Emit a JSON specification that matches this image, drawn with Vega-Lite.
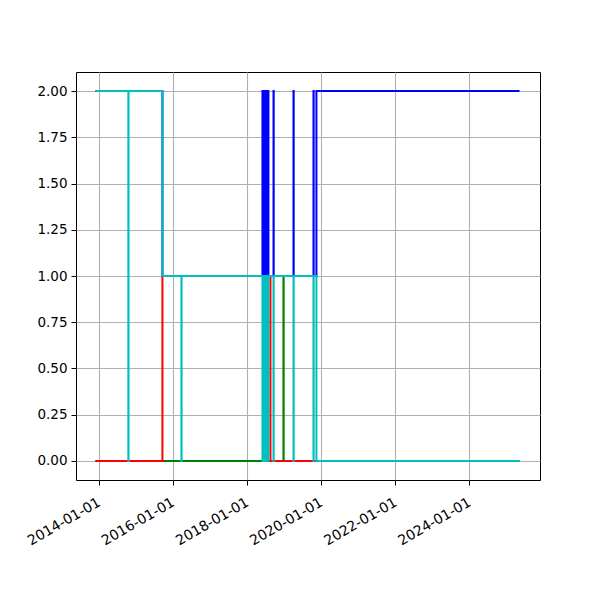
{
  "$schema": "https://vega.github.io/schema/vega-lite/v6.json",
  "autosize": {"type": "none"},
  "width": 464,
  "height": 408,
  "padding": {"left": 76, "top": 72, "right": 60, "bottom": 120},
  "background": "white",
  "config": {
    "view": {"stroke": "black", "strokeWidth": 1},
    "axis": {
      "labelFont": "DejaVu Sans",
      "labelFontSize": 13.5,
      "labelColor": "black",
      "tickColor": "black",
      "tickSize": 5,
      "labelPadding": 4,
      "domain": false,
      "gridColor": "#b0b0b0",
      "gridWidth": 1.1,
      "title": null
    }
  },
  "data": {
    "values": [
      {"s": "blue", "t": "2013-12-02", "v": 2},
      {"s": "blue", "t": "2015-09-23", "v": 1},
      {"s": "blue", "t": "2018-06-05", "v": 2},
      {"s": "blue", "t": "2018-06-07", "v": 1},
      {"s": "blue", "t": "2018-06-12", "v": 2},
      {"s": "blue", "t": "2018-06-14", "v": 1},
      {"s": "blue", "t": "2018-06-19", "v": 2},
      {"s": "blue", "t": "2018-06-21", "v": 1},
      {"s": "blue", "t": "2018-06-26", "v": 2},
      {"s": "blue", "t": "2018-06-28", "v": 1},
      {"s": "blue", "t": "2018-07-03", "v": 2},
      {"s": "blue", "t": "2018-07-05", "v": 1},
      {"s": "blue", "t": "2018-07-10", "v": 2},
      {"s": "blue", "t": "2018-07-12", "v": 1},
      {"s": "blue", "t": "2018-07-17", "v": 2},
      {"s": "blue", "t": "2018-07-19", "v": 1},
      {"s": "blue", "t": "2018-07-24", "v": 2},
      {"s": "blue", "t": "2018-07-26", "v": 1},
      {"s": "blue", "t": "2018-07-31", "v": 2},
      {"s": "blue", "t": "2018-08-03", "v": 1},
      {"s": "blue", "t": "2018-09-22", "v": 2},
      {"s": "blue", "t": "2018-09-24", "v": 1},
      {"s": "blue", "t": "2019-04-07", "v": 2},
      {"s": "blue", "t": "2019-04-09", "v": 1},
      {"s": "blue", "t": "2019-10-21", "v": 2},
      {"s": "blue", "t": "2019-10-23", "v": 1},
      {"s": "blue", "t": "2019-11-19", "v": 2},
      {"s": "blue", "t": "2025-05-13", "v": 2},
      {"s": "green", "t": "2013-12-02", "v": 0},
      {"s": "green", "t": "2018-12-29", "v": 1},
      {"s": "green", "t": "2018-12-31", "v": 0},
      {"s": "green", "t": "2025-05-13", "v": 0},
      {"s": "red", "t": "2013-12-02", "v": 0},
      {"s": "red", "t": "2015-09-23", "v": 1},
      {"s": "red", "t": "2018-08-23", "v": 0},
      {"s": "red", "t": "2025-05-13", "v": 0},
      {"s": "cyan", "t": "2013-12-02", "v": 2},
      {"s": "cyan", "t": "2014-10-22", "v": 0},
      {"s": "cyan", "t": "2014-10-24", "v": 2},
      {"s": "cyan", "t": "2015-09-23", "v": 1},
      {"s": "cyan", "t": "2016-03-28", "v": 0},
      {"s": "cyan", "t": "2016-03-30", "v": 1},
      {"s": "cyan", "t": "2018-06-05", "v": 0},
      {"s": "cyan", "t": "2018-06-07", "v": 1},
      {"s": "cyan", "t": "2018-06-12", "v": 0},
      {"s": "cyan", "t": "2018-06-14", "v": 1},
      {"s": "cyan", "t": "2018-06-19", "v": 0},
      {"s": "cyan", "t": "2018-06-21", "v": 1},
      {"s": "cyan", "t": "2018-06-26", "v": 0},
      {"s": "cyan", "t": "2018-06-28", "v": 1},
      {"s": "cyan", "t": "2018-07-03", "v": 0},
      {"s": "cyan", "t": "2018-07-05", "v": 1},
      {"s": "cyan", "t": "2018-07-10", "v": 0},
      {"s": "cyan", "t": "2018-07-12", "v": 1},
      {"s": "cyan", "t": "2018-07-17", "v": 0},
      {"s": "cyan", "t": "2018-07-19", "v": 1},
      {"s": "cyan", "t": "2018-07-24", "v": 0},
      {"s": "cyan", "t": "2018-07-26", "v": 1},
      {"s": "cyan", "t": "2018-07-31", "v": 0},
      {"s": "cyan", "t": "2018-08-03", "v": 1},
      {"s": "cyan", "t": "2018-09-22", "v": 0},
      {"s": "cyan", "t": "2018-09-24", "v": 1},
      {"s": "cyan", "t": "2019-04-07", "v": 0},
      {"s": "cyan", "t": "2019-04-09", "v": 1},
      {"s": "cyan", "t": "2019-10-21", "v": 0},
      {"s": "cyan", "t": "2019-10-23", "v": 1},
      {"s": "cyan", "t": "2019-11-19", "v": 0},
      {"s": "cyan", "t": "2025-05-13", "v": 0}
    ]
  },
  "encoding": {
    "x": {
      "field": "t",
      "type": "temporal",
      "scale": {
        "type": "utc",
        "domain": [
          {"year": 2013, "month": "may", "date": 24, "utc": true},
          {"year": 2025, "month": "dec", "date": 1, "utc": true}
        ]
      },
      "axis": {
        "values": [
          {"year": 2014, "month": "jan", "date": 1, "utc": true},
          {"year": 2016, "month": "jan", "date": 1, "utc": true},
          {"year": 2018, "month": "jan", "date": 1, "utc": true},
          {"year": 2020, "month": "jan", "date": 1, "utc": true},
          {"year": 2022, "month": "jan", "date": 1, "utc": true},
          {"year": 2024, "month": "jan", "date": 1, "utc": true}
        ],
        "format": "%Y-%m-%d",
        "labelAngle": -30,
        "labelAlign": "right",
        "labelBaseline": "top",
        "labelOverlap": false,
        "labelFontSize": 14,
        "labelPadding": 10,
        "labelOffset": -3,
        "grid": true
      }
    },
    "y": {
      "field": "v",
      "type": "quantitative",
      "scale": {"domain": [-0.103, 2.103], "nice": false, "zero": false},
      "axis": {
        "values": [0, 0.25, 0.5, 0.75, 1, 1.25, 1.5, 1.75, 2],
        "format": ".2f",
        "grid": true
      }
    }
  },
  "layer": [
    {
      "transform": [{"filter": "datum.s === 'blue'"}],
      "mark": {"type": "line", "interpolate": "step-after", "color": "#0000ff", "strokeWidth": 2, "clip": true}
    },
    {
      "transform": [{"filter": "datum.s === 'green'"}],
      "mark": {"type": "line", "interpolate": "step-after", "color": "#008000", "strokeWidth": 2, "clip": true}
    },
    {
      "transform": [{"filter": "datum.s === 'red'"}],
      "mark": {"type": "line", "interpolate": "step-after", "color": "#ff0000", "strokeWidth": 2, "clip": true}
    },
    {
      "transform": [{"filter": "datum.s === 'cyan'"}],
      "mark": {"type": "line", "interpolate": "step-after", "color": "#00bfbf", "strokeWidth": 2, "clip": true}
    }
  ]
}
